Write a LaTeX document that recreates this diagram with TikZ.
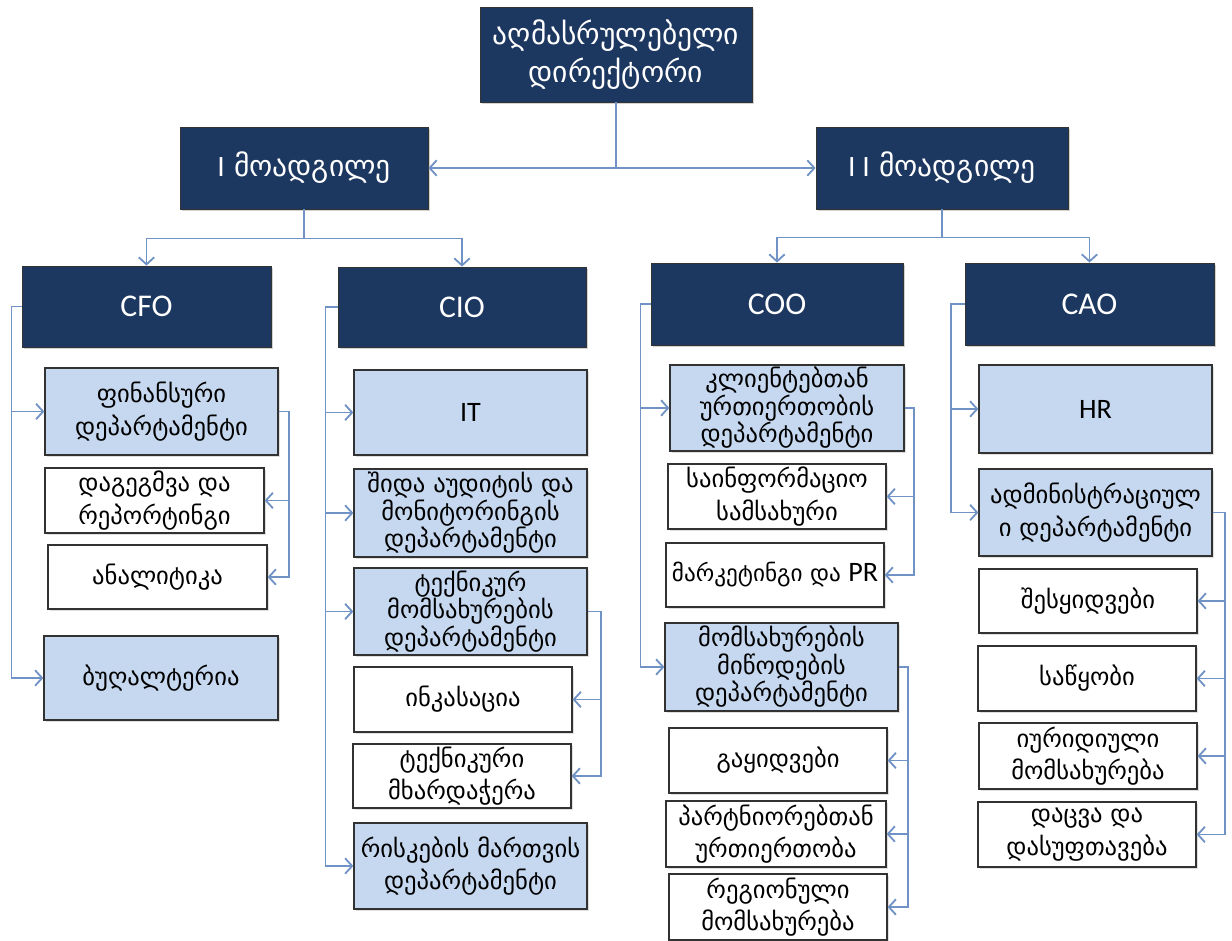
\documentclass[tikz,border=0pt]{standalone}
\usepackage{fontspec}
\setmainfont{DejaVu Sans}
\newfontfamily\latfont{Carlito}
\usetikzlibrary{arrows.meta,shadows}
\definecolor{navy}{RGB}{28,55,96}
\definecolor{paleblue}{RGB}{198,216,240}
\definecolor{linkblue}{RGB}{112,146,196}
\definecolor{rim}{RGB}{50,50,50}

\begin{document}
\begin{tikzpicture}[x=0.025cm,y=-0.025cm,>={Straight Barb[length=5pt,width=11pt]},
    chief/.style={draw=black!80,fill=navy,text=white,align=center,inner sep=0pt,line width=0.6pt,
                  drop shadow={shadow xshift=1.5pt,shadow yshift=-1.5pt,opacity=0.35},
                  font=\fontsize{21}{27}\selectfont},
    dept/.style={draw=rim,fill=paleblue,align=center,inner sep=0pt,line width=0.9pt,
                 drop shadow={shadow xshift=1.2pt,shadow yshift=-1.2pt,opacity=0.25},
                 font=\fontsize{17.5}{23}\selectfont},
    unit/.style={dept,fill=white},
    tight/.style={font=\fontsize{17.5}{19.5}\selectfont},
    latin/.style={font=\latfont\fontsize{20}{24}\selectfont},
    biglatin/.style={font=\latfont\fontsize{22.5}{26}\selectfont},
    dims/.style 2 args={minimum width=#1*0.025cm,minimum height=#2*0.025cm},
    link/.style={draw=linkblue,line width=1.3pt}]

  \fill[white] (0,0) rectangle (1232,941);
  \useasboundingbox (0,0) rectangle (1232,941);

  \node[chief,dims={272}{95}] (ceo)  at (616,54.5) {აღმასრულებელი\\დირექტორი};
  \node[chief,dims={248}{82}] (dep1) at (304,168)  {{\latfont I} მოადგილე};
  \node[chief,dims={252}{82}] (dep2) at (942,168)  {{\latfont I I} მოადგილე};

  \node[chief,biglatin,dims={249}{81}] (cfo) at (146.5,306.5) {CFO};
  \node[chief,biglatin,dims={248}{80}] (cio) at (462,307)     {CIO};
  \node[chief,biglatin,dims={252}{82}] (coo) at (777,304)     {COO};
  \node[chief,biglatin,dims={249}{82}] (cao) at (1089.5,304)  {CAO};

  \node[dept,dims={233}{87}] (fin)  at (161.5,411.5) {ფინანსური\\დეპარტამენტი};
  \node[unit,dims={219}{65}] (plan) at (154.5,500.5) {დაგეგმვა და\\რეპორტინგი};
  \node[unit,dims={219}{64}] (anal) at (157.5,577)   {ანალიტიკა};
  \node[dept,dims={234}{84}] (buh)  at (161,678)     {ბუღალტერია};

  \node[dept,latin,dims={233}{85}] (it) at (470.5,412.5) {IT};
  \node[dept,tight,dims={233}{88}] (audit) at (470.5,513) {შიდა აუდიტის და\\მონიტორინგის\\დეპარტამენტი};
  \node[dept,tight,dims={233}{87}] (tech)  at (470.5,611.5) {ტექნიკურ\\მომსახურების\\დეპარტამენტი};
  \node[unit,dims={218}{65}] (ink)  at (463,699.5) {ინკასაცია};
  \node[unit,dims={218}{64}] (supp) at (462,776)   {ტექნიკური\\მხარდაჭერა};
  \node[dept,dims={233}{86}] (risk) at (470.5,866) {რისკების მართვის\\დეპარტამენტი};

  \node[dept,tight,dims={234}{86}] (client) at (787,408) {კლიენტებთან\\ურთიერთობის\\დეპარტამენტი};
  \node[unit,dims={218}{65}] (info) at (777,496.5) {საინფორმაციო\\სამსახური};
  \node[unit,dims={218}{64},font=\fontsize{16.5}{20}\selectfont] (mark) at (775,575)
    {მარკეტინგი და {\latfont\fontsize{20}{24}\selectfont PR}};
  \node[dept,tight,dims={233}{88}] (serv) at (781.5,667) {მომსახურების\\მიწოდების\\დეპარტამენტი};
  \node[unit,dims={218}{65}] (sales)  at (778,760.5) {გაყიდვები};
  \node[unit,dims={220}{66}] (partn)  at (776,834)   {პარტნიორებთან\\ურთიერთობა};
  \node[unit,dims={218}{66}] (region) at (778,907)   {რეგიონული\\მომსახურება};

  \node[dept,latin,dims={233}{88}] (hr) at (1095.5,409) {HR};
  \node[dept,dims={233}{87}] (admin) at (1095.5,512.5) {ადმინისტრაციულ\\ი დეპარტამენტი};
  \node[unit,dims={218}{64}] (proc)  at (1088,601)   {შესყიდვები};
  \node[unit,dims={218}{65}] (store) at (1087,678.5) {საწყობი};
  \node[unit,dims={218}{66}] (legal) at (1088,756)   {იურიდიული\\მომსახურება};
  \node[unit,dims={218}{65}] (secur) at (1087,834.5) {დაცვა და\\დასუფთავება};

  \draw[link] (ceo.south) -- (ceo.south |- dep1.east) coordinate (hub);
  \draw[link,->] (hub) -- (dep1.east);
  \draw[link,->] (hub) -- (dep2.west);

  \foreach \c in {cfo,cio}
    \draw[link,->] (dep1.south) -- ++(0,29) -| (\c.north);
  \foreach \c in {coo,cao}
    \draw[link,->] (dep2.south) -- ++(0,28) -| (\c.north);

  \foreach \c in {fin,buh}
    \draw[link,->] (cfo.west) -- ++(-10,0) |- (\c.west);
  \foreach \c in {plan,anal}
    \draw[link,->] (fin.east) -- ++(10,0) |- (\c.east);

  \foreach \c in {it,audit,tech,risk}
    \draw[link,->] (cio.west) -- ++(-12,0) |- (\c.west);
  \foreach \c in {ink,supp}
    \draw[link,->] (tech.east) -- ++(13,0) |- (\c.east);

  \foreach \c in {client,serv}
    \draw[link,->] (coo.west) -- ++(-10,0) |- (\c.west);
  \foreach \c in {info,mark}
    \draw[link,->] (client.east) -- ++(9,0) |- (\c.east);
  \foreach \c in {sales,partn,region}
    \draw[link,->] (serv.east) -- ++(9,0) |- (\c.east);

  \foreach \c in {hr,admin}
    \draw[link,->] (cao.west) -- ++(-14,0) |- (\c.west);
  \foreach \c in {proc,store,legal,secur}
    \draw[link,->] (admin.east) -- ++(12,0) |- (\c.east);
\end{tikzpicture}
\end{document}
